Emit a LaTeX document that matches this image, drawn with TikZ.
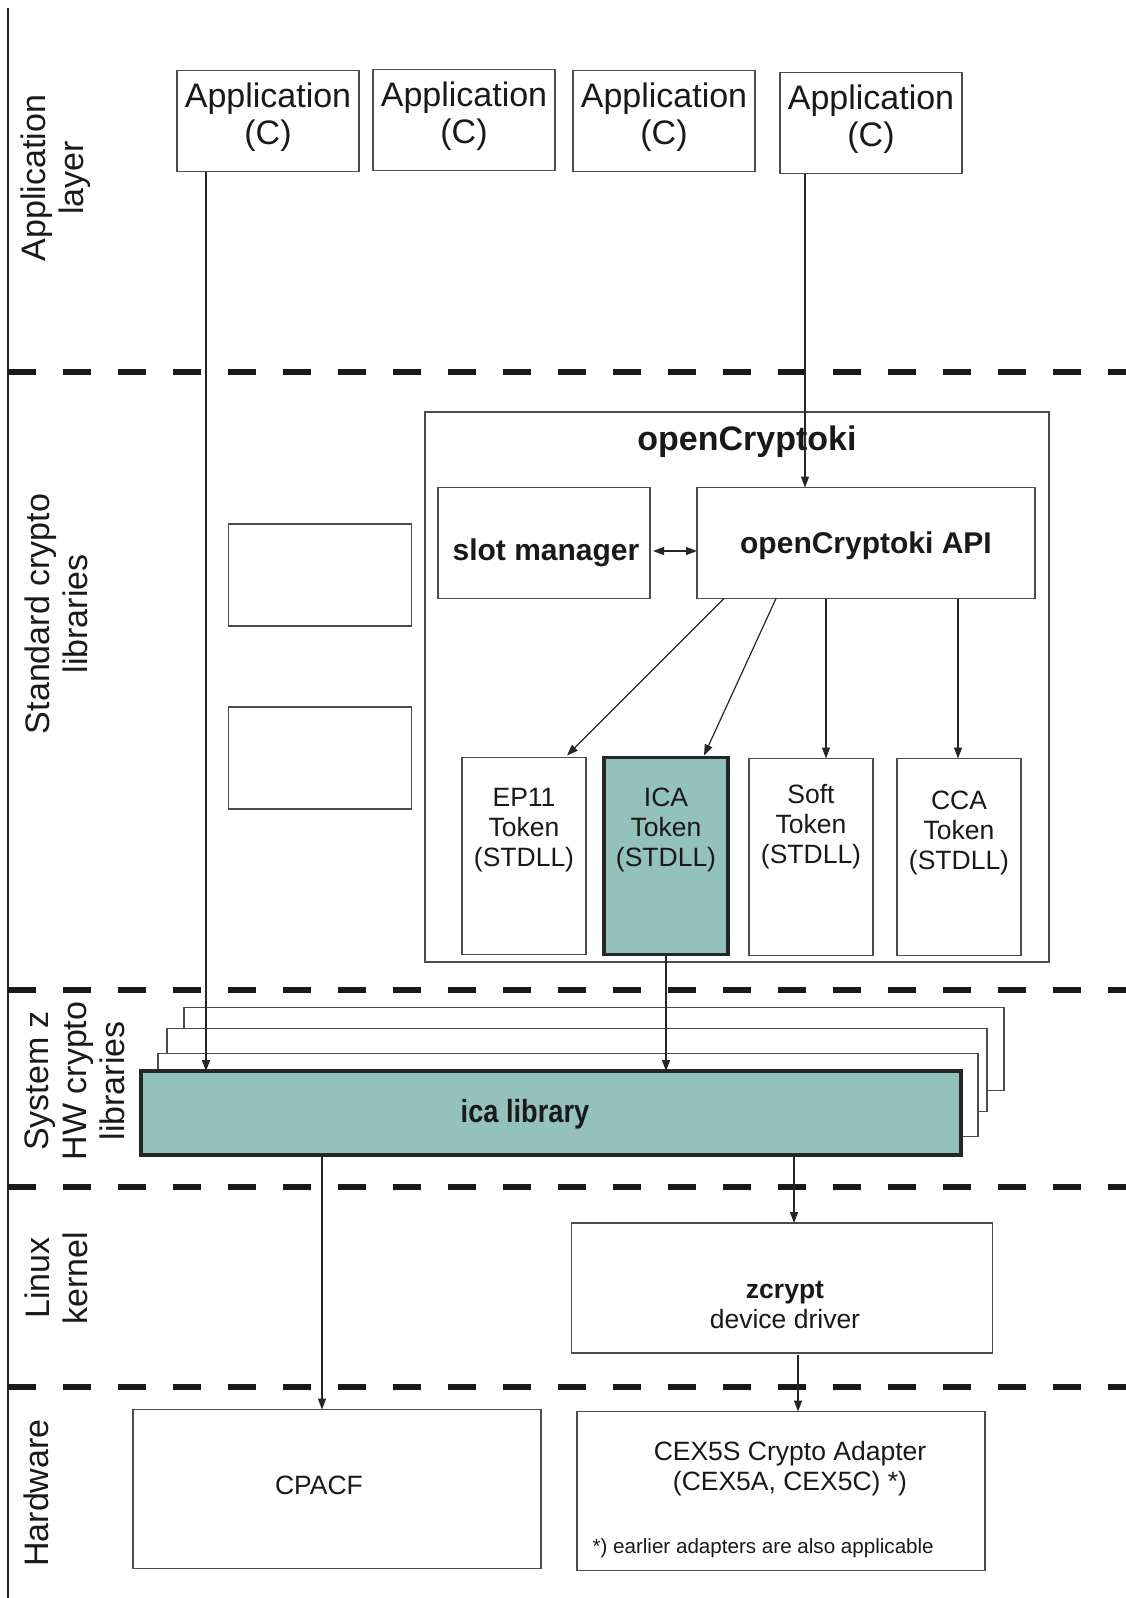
\documentclass[tikz,border=0pt]{standalone}
\usepackage{fontspec}
\setmainfont{Liberation Sans}
\newfontfamily\narrowfont[FakeStretch=0.85]{Liberation Sans}
\usetikzlibrary{arrows.meta}
\definecolor{icateal}{HTML}{93C1BB}

\begin{document}
\begin{tikzpicture}[x=1pt, y=-1pt
    , box/.style = {rectangle, draw=black!70, fill=white, line width=1.2pt, inner sep=0pt, outer sep=0pt, align=center, text=black!90}
    , hot/.style = {box, fill=icateal, draw=black!85, line width=3.5pt}
    , layer/.style = {rotate=90, align=center, text=black!90, font=\fontsize{34}{38}\selectfont}
    , sep/.style = {line width=6pt, draw=black!90, dash pattern=on 28pt off 27pt}
    , flow/.style = {-{Triangle[length=11pt,width=8pt]}, line width=1.2pt, draw=black!85}
    , big/.style = {font=\fontsize{34}{37}\selectfont}
    , small/.style = {align=center, text=black!90, font=\fontsize{26.5}{30}\selectfont}
    , strong/.style = {text=black!90, font=\fontsize{30}{34}\selectfont\bfseries}
]
\useasboundingbox (0,0) rectangle (1126,1598);
\draw[line width=1.2pt, draw=black!85] (8,8) -- (8,1598);
\foreach \y in {372, 990, 1187, 1387}
    \draw[sep] (8,\y) -- (1126,\y);

\node[layer] (lapp) at (56,178) {Application\\layer};
\node[layer] (lstd) at (56,614) {Standard crypto\\libraries};
\node[layer] (lhw) at (75,1081) {System z\\HW crypto\\libraries};
\node[layer] (llin) at (56,1278) {Linux\\kernel};
\node[layer] (lhwr) at (36,1493) {Hardware};

\foreach \cx/\cy [count=\j] in {268/121, 464/120, 664/121, 871/123}
{
    \node[box, minimum width=182pt, minimum height=101pt] (app\j) at (\cx,\cy) {};
    \node[big, align=center, text=black!90] (applbl\j) at (\cx,\cy-4) {Application\\(C)};
}

\node[box, minimum width=183pt, minimum height=102pt] (empty1) at (320,575) {};
\node[box, minimum width=183pt, minimum height=102pt] (empty2) at (320,758) {};

\node[box, minimum width=624pt, minimum height=550pt] (ock) at (737,687) {};
\node[text=black!90, font=\fontsize{34}{37}\selectfont\bfseries] (ocktitle) at (747,442) {openCryptoki};
\node[box, minimum width=212pt, minimum height=111pt] (slot) at (544,543) {};
\node[strong] (slotlbl) at (546,553) {slot manager};
\node[box, minimum width=338pt, minimum height=111pt] (api) at (866,543) {};
\node[strong] (apilbl) at (866,546) {openCryptoki API};

\foreach \cx/\cy/\ty/\nm [count=\j] in {524/856/830/EP11, 666/856/830/ICA, 811/857/827/Soft, 959/857/833/CCA}
{
    \node[box, minimum width=124pt, minimum height=197pt] (tok\j) at (\cx,\cy) {};
    \node[small] (toklbl\j) at (\cx,\ty) {\nm\\Token\\(STDLL)};
}
\node[hot, minimum width=124pt, minimum height=197pt] (tok2) at (666,856) {};
\node[small] (toklbl2) at (666,830) {ICA\\Token\\(STDLL)};

\foreach \cx/\cy [count=\j] in {594/1049, 577/1070, 568/1095}
    \node[box, minimum width=820pt, minimum height=83pt] (back\j) at (\cx,\cy) {};
\node[hot, minimum width=820pt, minimum height=84pt] (ica) at (551,1113) {};
\node[text=black!90, font=\fontsize{32}{36}\narrowfont\bfseries] (icatext) at (525,1114) {ica library};

\node[box, minimum width=421pt, minimum height=130pt] (zcrypt) at (782,1288) {};
\node[small] (zcrypttext) at (785,1305) {\textbf{zcrypt}\\device driver};

\node[box, minimum width=408pt, minimum height=159pt] (cpacf) at (337,1489) {};
\node[small] (cpacftext) at (319,1485) {CPACF};
\node[box, minimum width=408pt, minimum height=159pt] (cex) at (781,1491) {};
\node[small] (cextext) at (790,1469) {CEX5S Crypto Adapter\\(CEX5A, CEX5C) *)};
\node[anchor=west, text=black!90, font=\fontsize{20.6}{24}\selectfont] (cexnote) at (589,1548) {*) earlier adapters are also applicable};

\draw[flow] ([xshift=-62pt]app1.south) -- ([xshift=-62pt]app1.south |- ica.north);
\draw[flow] ([xshift=-66pt]app4.south) -- ([xshift=-66pt]app4.south |- api.north);
\draw[{Triangle[length=11pt,width=8pt]}-{Triangle[length=11pt,width=8pt]}, line width=1.2pt, draw=black!85]
    ([xshift=3pt,yshift=-8pt]slot.east) -- ([yshift=-8pt]api.west);
\draw[flow] ([xshift=-142pt]api.south) -- ([xshift=43pt,yshift=2pt]tok1.north);
\draw[flow] ([xshift=-90pt]api.south) -- ([xshift=38pt,yshift=2pt]tok2.north);
\draw[flow] ([xshift=-40pt]api.south) -- ([xshift=-40pt]api.south |- tok3.north);
\draw[flow] ([xshift=92pt]api.south) -- ([xshift=92pt]api.south |- tok4.north);
\draw[flow] (tok2.south) -- (tok2.south |- ica.north);
\draw[flow] ([xshift=-15pt]cpacf.north |- ica.south) -- ([xshift=-15pt]cpacf.north);
\draw[flow] ([xshift=12pt]zcrypt.north |- ica.south) -- ([xshift=12pt]zcrypt.north);
\draw[flow] ([xshift=17pt,yshift=-2pt]cex.north |- zcrypt.south) -- ([xshift=17pt]cex.north);
\end{tikzpicture}
\end{document}
